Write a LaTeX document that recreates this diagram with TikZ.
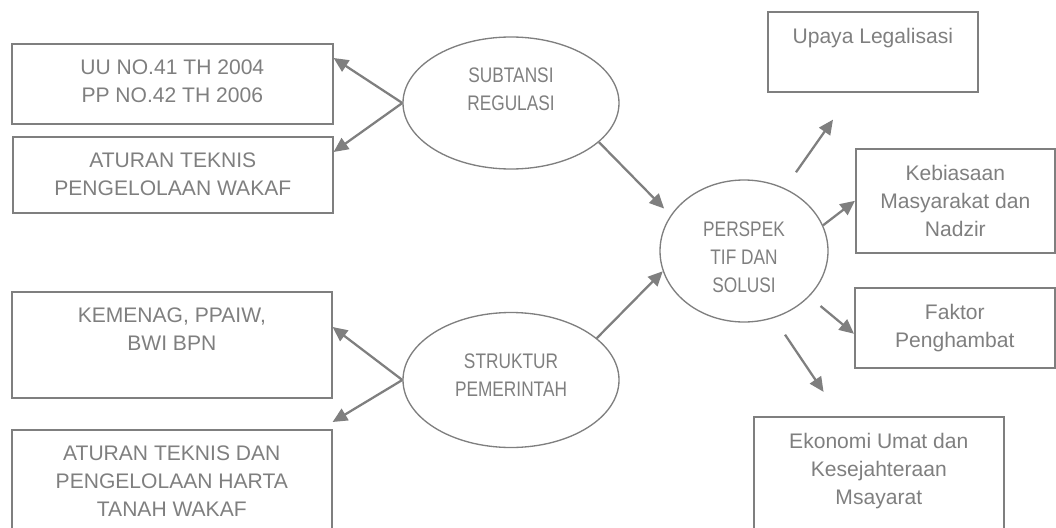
\documentclass[tikz,border=0pt]{standalone}
\usepackage{fontspec}
\setmainfont{Liberation Sans}
\newfontfamily\narrowfont[FakeStretch=0.82]{Liberation Sans}
\usepackage{tikz}
\usetikzlibrary{calc,arrows.meta,shapes.geometric,positioning}
\definecolor{lgray}{RGB}{127,127,127}
\newcommand{\boxfont}{\fontsize{15.8}{21}\selectfont}
\newcommand{\ovalfont}{\narrowfont\fontsize{15.8}{21}\selectfont}

\begin{document}
\begin{tikzpicture}[x=0.75pt,y=-0.75pt]

\tikzset{box/.style={draw=lgray,line width=1.2pt,anchor=north west,inner sep=0pt},
oval/.style={draw=lgray,line width=1pt,shape=ellipse,inner sep=0pt},
boxtext/.style={font=\boxfont,text=lgray,align=center,inner sep=0pt,anchor=north},
ovaltext/.style={font=\ovalfont,text=lgray,align=center,inner sep=0pt},
arr/.style={draw=lgray,line width=1.7pt,-{Triangle[length=11pt,width=10pt]}}}

\useasboundingbox (0,0) rectangle (1056,528);
\clip (0,0) rectangle (1056,528);

% Left boxes
\node[box,minimum width=240.75pt,minimum height=60pt] (uu) at (11,43) {};
\node[box,minimum width=240pt,minimum height=57pt] (atk) at (12,136) {};
\node[box,minimum width=240pt,minimum height=79.5pt] (kem) at (11,291) {};
\node[box,minimum width=240pt,minimum height=97.5pt] (atd) at (11,429) {};
\node[boxtext,below=12.4pt of uu.north] {UU NO.41 TH 2004\\PP NO.42 TH 2006};
\node[boxtext,below=12.4pt of atk.north] {ATURAN TEKNIS\\PENGELOLAAN WAKAF};
\node[boxtext,below=12.4pt of kem.north] {KEMENAG, PPAIW,\\BWI BPN};
\node[boxtext,below=12.4pt of atd.north] {ATURAN TEKNIS DAN\\PENGELOLAAN HARTA\\TANAH WAKAF};

% Right boxes
\node[box,minimum width=157.5pt,minimum height=60pt] (upa) at (767,11) {};
\node[box,minimum width=149.25pt,minimum height=78pt] (keb) at (855,148) {};
\node[box,minimum width=150pt,minimum height=60pt] (fak) at (854,287) {};
\node[box,minimum width=187.5pt,minimum height=97.5pt] (eko) at (753,416) {};
\node[boxtext,below=12.4pt of upa.north] {Upaya Legalisasi};
\node[boxtext,below=12.4pt of keb.north] {Kebiasaan\\Masyarakat dan\\Nadzir};
\node[boxtext,below=12.4pt of fak.north] {Faktor\\Penghambat};
\node[boxtext,below=12.4pt of eko.north] {Ekonomi Umat dan\\Kesejahteraan\\Msayarat};

% Ovals
\node[oval,minimum width=162pt,minimum height=99pt] (sub) at (511,103) {};
\node[oval,minimum width=162pt,minimum height=101.25pt] (str) at (511,380) {};
\node[oval,minimum width=126pt,minimum height=106.5pt] (per) at (744,251) {};
\node[ovaltext] at ($(sub)+(0,-14)$) {SUBTANSI\\REGULASI};
\node[ovaltext] at ($(str)+(0,-4.5)$) {STRUKTUR\\PEMERINTAH};
\node[ovaltext] at ($(per)+(0,6.5)$) {PERSPEK\\TIF DAN\\SOLUSI};

% Arrows to the left
\draw[arr] (sub.west) -- ($(uu.north east)+(0,15)$);
\draw[arr] (sub.west) -- ($(atk.north east)+(0,16)$);
\draw[arr] (str.west) -- ($(kem.north east)+(0,36)$);
\draw[arr] (str.west) -- ($(atd.north east)+(0,-7)$);

% Arrows into the middle
\draw[arr,shorten >=7pt] (sub.-24) -- (per.154);
\draw[arr] (str.26) -- (per.194);

% Arrows to the right
\draw[arr,shorten <=14.6pt,shorten >=24.8pt] (per.57) -- ($(upa.south west)+(85,0)$);
\draw[arr] (per.18) -- (keb.west);
\draw[arr,shorten <=11pt] (per.-35) -- ($(fak.west)+(0,6)$);
\draw[arr,shorten <=15pt,shorten >=21.8pt] (per.-66) -- ($(eko.north)+(-39,0)$);

\end{tikzpicture}
\end{document}
